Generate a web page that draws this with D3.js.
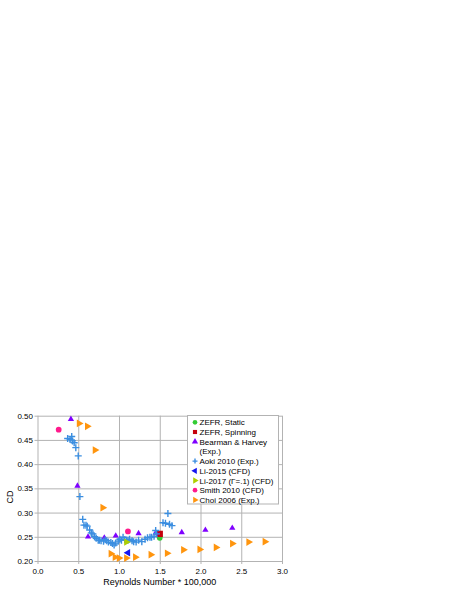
<!DOCTYPE html>
<html>
<head>
<meta charset="utf-8">
<script src="https://cdn.jsdelivr.net/npm/d3@7"></script>
<style>
body { margin: 0; background: #fff; }
text { font-family: "Liberation Sans", Arial, sans-serif; fill: #000; }
</style>
</head>
<body>
<div id="chart"></div>
<script>
// series data (Re / 100,000 , CD)
var zefrStaticX = [1.50], zefrStaticY = [0.248]
var zefrSpinX = [1.50], zefrSpinY = [0.256]
var bearmanX = [0.41, 0.49, 0.62, 0.82, 0.96, 1.24, 1.45, 1.77, 2.06, 2.39]
var bearmanY = [0.493, 0.355, 0.250, 0.248, 0.252, 0.257, 0.258, 0.259, 0.264, 0.268]
var aokiX = [0.37, 0.40, 0.42, 0.43, 0.45, 0.47, 0.50, 0.52, 0.555, 0.57, 0.595, 0.61, 0.64, 0.66, 0.68, 0.70, 0.72, 0.745, 0.76, 0.78, 0.81, 0.83, 0.85, 0.87, 0.90, 0.92, 0.94, 0.96, 0.99, 1.01, 1.03, 1.05, 1.07, 1.09, 1.11, 1.13, 1.16, 1.18, 1.21, 1.24, 1.28, 1.32, 1.35, 1.38, 1.40, 1.43, 1.45, 1.46, 1.54, 1.57, 1.60, 1.62, 1.65]
var aokiY = [0.453, 0.451, 0.457, 0.448, 0.444, 0.434, 0.417, 0.333, 0.286, 0.274, 0.274, 0.272, 0.264, 0.258, 0.256, 0.250, 0.247, 0.243, 0.243, 0.242, 0.241, 0.244, 0.242, 0.239, 0.238, 0.236, 0.233, 0.237, 0.241, 0.245, 0.243, 0.249, 0.244, 0.243, 0.243, 0.245, 0.242, 0.240, 0.239, 0.243, 0.240, 0.245, 0.248, 0.249, 0.249, 0.251, 0.263, 0.256, 0.279, 0.278, 0.298, 0.276, 0.273]
var li2015X = [1.11], li2015Y = [0.217]
var li2017X = [1.09], li2017Y = [0.239]
var smithX = [0.26, 1.11], smithY = [0.471, 0.261]
var choiX = [0.51, 0.61, 0.705, 0.80, 0.90, 0.95, 1.00, 1.09, 1.20, 1.39, 1.59, 1.79, 1.99, 2.19, 2.39, 2.59, 2.79]
var choiY = [0.484, 0.478, 0.429, 0.310, 0.215, 0.208, 0.206, 0.206, 0.208, 0.213, 0.216, 0.223, 0.224, 0.228, 0.236, 0.239, 0.240]

var xTicks = [0.0, 0.5, 1.0, 1.5, 2.0, 2.5, 3.0]
var yTicks = [0.20, 0.25, 0.30, 0.35, 0.40, 0.45, 0.50]

var series = [
    { name: "ZEFR, Static", x: zefrStaticX, y: zefrStaticY, shape: "circle", color: "#33cc33", size: 26 },
    { name: "ZEFR, Spinning", x: zefrSpinX, y: zefrSpinY, shape: "square", color: "#c5000b", size: 40 },
    { name: "Bearman & Harvey", name2: "(Exp.)", x: bearmanX, y: bearmanY, shape: "up", color: "#7f00ff", size: 17 },
    { name: "Aoki 2010 (Exp.)", x: aokiX, y: aokiY, shape: "plus", color: "#3b8ee0", size: 3.5 },
    { name: "Li-2015 (CFD)", x: li2015X, y: li2015Y, shape: "left", color: "#1515f0", size: 24 },
    { name: "Li-2017 (Γ=.1) (CFD)", x: li2017X, y: li2017Y, shape: "right", color: "#aecf00", size: 24 },
    { name: "Smith 2010 (CFD)", x: smithX, y: smithY, shape: "circle", color: "#ff1a8c", size: 26 },
    { name: "Choi 2006 (Exp.)", x: choiX, y: choiY, shape: "right", color: "#ff950e", size: 26 }
]

var svg = d3.select("#chart")
    .append("svg")
    .attr("width", 457)
    .attr("height", 591)

var plotL = 37.5, plotR = 282, plotT = 415.7, plotB = 561

var x = d3.scaleLinear().domain([0, 3]).range([plotL, plotR])
var y = d3.scaleLinear().domain([0.2, 0.5]).range([plotB, plotT])

// grid + axes
svg.append("g")
    .attr("transform", "translate(0," + plotB + ")")
    .call(d3.axisBottom(x).tickValues(xTicks).tickSize(-(plotB - plotT)).tickFormat(d3.format(".1f")))
    .call(function (g) {
        g.select(".domain").remove()
        g.selectAll(".tick line").attr("stroke", "#b3b3b3").attr("y1", 3)
        g.selectAll(".tick text").attr("y", 7).style("font-size", "8px").style("font-family", "Liberation Sans, Arial, sans-serif")
    })

svg.append("g")
    .attr("transform", "translate(" + plotL + ",0)")
    .call(d3.axisLeft(y).tickValues(yTicks).tickSize(-(plotR - plotL)).tickFormat(d3.format(".2f")))
    .call(function (g) {
        g.select(".domain").remove()
        g.selectAll(".tick line").attr("stroke", "#b3b3b3").attr("x1", -3)
        g.selectAll(".tick text").attr("x", -4.5).style("font-size", "8px").style("font-family", "Liberation Sans, Arial, sans-serif")
    })

// axis titles
svg.append("text")
    .text("Reynolds Number * 100,000")
    .attr("x", (plotL + plotR) / 2)
    .attr("y", 585)
    .attr("text-anchor", "middle")
    .style("font-size", "9px")

svg.append("text")
    .text("CD")
    .attr("transform", "translate(12.5,497) rotate(-90)")
    .attr("text-anchor", "middle")
    .style("font-size", "9px")

function marker(sel, s, cx, cy) {
    if (s.shape == "plus") {
        var r = s.size
        sel.append("path")
            .attr("d", "M" + (cx - r) + "," + cy + "H" + (cx + r) + "M" + cx + "," + (cy - r) + "V" + (cy + r))
            .attr("stroke", s.color)
            .attr("stroke-width", 1.4)
            .attr("fill", "none")
        return
    }
    var type = d3.symbolTriangle, rot = 0
    if (s.shape == "circle") type = d3.symbolCircle
    if (s.shape == "square") type = d3.symbolSquare
    if (s.shape == "left") rot = -90
    if (s.shape == "right") rot = 90
    sel.append("path")
        .attr("d", d3.symbol().type(type).size(s.size)())
        .attr("transform", "translate(" + cx + "," + cy + ") rotate(" + rot + ")")
        .attr("fill", s.color)
}

// points
series.forEach(function (s) {
    var g = svg.append("g")
    s.x.forEach(function (v, i) {
        marker(g, s, x(v), y(s.y[i]))
    })
})

// legend
var leg = svg.append("g")
leg.append("rect")
    .attr("x", 187.5)
    .attr("y", 415.5)
    .attr("width", 91)
    .attr("height", 88.5)
    .attr("fill", "#fff")
    .attr("stroke", "#b3b3b3")

var row = 0
series.forEach(function (s) {
    var ly = 422.3 + row * 9.7
    var ms = Object.assign({}, s)
    if (s.shape == "plus") ms.size = 2.5
    else ms.size = Math.min(s.size, 17)
    marker(leg, ms, 195, ly)
    leg.append("text")
        .text(s.name)
        .attr("x", 199.5)
        .attr("y", ly + 3)
        .style("font-size", "8px")
    row++
    if (s.name2) {
        leg.append("text")
            .text(s.name2)
            .attr("x", 199.5)
            .attr("y", 422.3 + row * 9.7 + 3)
            .style("font-size", "8px")
        row++
    }
})
</script>
</body>
</html>
